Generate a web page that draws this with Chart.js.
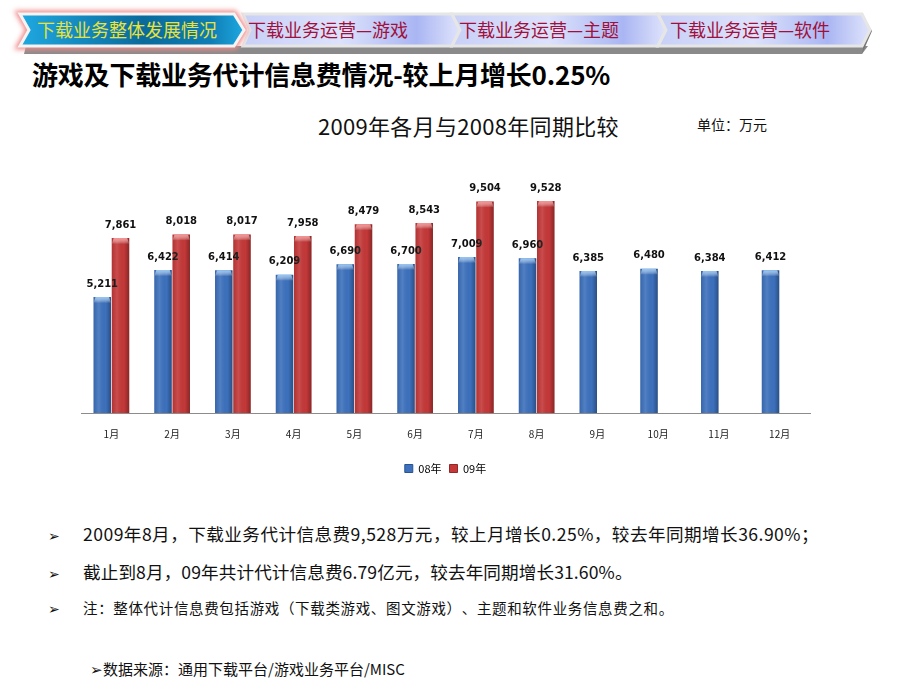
<!DOCTYPE html>
<html>
<head>
<meta charset="utf-8">
<script src="https://cdn.jsdelivr.net/npm/chart.js@4.4.1/dist/chart.umd.min.js"></script>
<style>
  html, body { margin: 0; padding: 0; background: #fff; }
  body { width: 920px; height: 690px; position: relative; overflow: hidden;
         font-family: "Noto Sans CJK SC", "Noto Sans", sans-serif;
         text-spacing-trim: space-all; font-feature-settings: "chws" 0; }
  .abs { position: absolute; white-space: nowrap; }
  #nav { position: absolute; left: 0; top: 0; }
  #title { left: 32px; top: 55px; font-size: 26px; font-weight: bold; color: #000; letter-spacing: -0.2px; }
  #ctitle { left: 318px; top: 109px; font-size: 22px; color: #111; letter-spacing: 0.3px; }
  #unit { left: 697px; top: 114px; font-size: 14px; color: #111; }
  #chartbox { position: absolute; left: 0; top: 130px; width: 920px; height: 360px; }
  .bl { font-size: 17.6px; color: #111; }
  .bul { font-size: 14px; color: #111; }
</style>
</head>
<body>
<svg id="nav" width="920" height="60" xmlns="http://www.w3.org/2000/svg">
  <defs>
    <linearGradient id="g1" x1="0" y1="0" x2="1" y2="0">
      <stop offset="0" stop-color="#1fa8e0"/>
      <stop offset="0.55" stop-color="#0a6a9c"/>
      <stop offset="0.85" stop-color="#0e7db4"/>
      <stop offset="1" stop-color="#1fa8e0"/>
    </linearGradient>
    <linearGradient id="g2" x1="0" y1="0" x2="1" y2="0">
      <stop offset="0" stop-color="#c8d0f7"/>
      <stop offset="0.45" stop-color="#dce2fb"/>
      <stop offset="0.8" stop-color="#aab6f3"/>
      <stop offset="1" stop-color="#dfe4fb"/>
    </linearGradient>
    <filter id="blur" x="-10%" y="-40%" width="120%" height="180%">
      <feGaussianBlur stdDeviation="2.5"/>
    </filter>
  </defs>
  <polygon points="26,46 868,46 862,54 24,54" fill="#8a8a8a"/>
  <polygon points="862,14 872,31 862,54 866,31" fill="#777"/>
  <polygon points="243,14 452,14 460,30 452,46 243,46 250,30" fill="url(#g2)" stroke="#e6e6e6" stroke-width="3"/>
  <polygon points="452,14 658,14 666,30 658,46 452,46 460,30" fill="url(#g2)" stroke="#e6e6e6" stroke-width="3"/>
  <polygon points="658,14 862,14 870,30 862,46 658,46 666,30" fill="url(#g2)" stroke="#e6e6e6" stroke-width="3"/>
  <polygon points="20,14 234,14 244,30 234,46 20,46 29,30" fill="none" stroke="#f08a8a" stroke-width="7" filter="url(#blur)"/>
  <polygon points="20,14 234,14 244,30 234,46 20,46 29,30" fill="url(#g1)" stroke="#f4f4f4" stroke-width="3"/>
  <text x="37" y="37" font-size="18" fill="#e9e33a" font-family="Noto Sans CJK SC">下载业务整体发展情况</text>
  <text x="248" y="37" font-size="18" fill="#a0103c" font-family="Noto Sans CJK SC">下载业务运营—游戏</text>
  <text x="459" y="37" font-size="18" fill="#a0103c" font-family="Noto Sans CJK SC">下载业务运营—主题</text>
  <text x="670" y="37" font-size="18" fill="#a0103c" font-family="Noto Sans CJK SC">下载业务运营—软件</text>
</svg>

<div id="title" class="abs">游戏及下载业务代计信息费情况-较上月增长0.25%</div>
<div id="ctitle" class="abs">2009年各月与2008年同期比较</div>
<div id="unit" class="abs">单位：万元</div>

<div id="chartbox"><canvas id="c" width="920" height="360"></canvas></div>

<div class="abs bul" style="left:48px;top:525px;">➢</div>
<div class="abs bl" style="left:83px;top:521px;letter-spacing:0.45px;">2009年8月，下载业务代计信息费9,528万元，较上月增长0.25%，较去年同期增长36.90%；</div>
<div class="abs bul" style="left:48px;top:563px;">➢</div>
<div class="abs bl" style="left:83px;top:559px;letter-spacing:0.1px;">截止到8月，09年共计代计信息费6.79亿元，较去年同期增长31.60%。</div>
<div class="abs bul" style="left:48px;top:598px;">➢</div>
<div class="abs" style="left:83px;top:597px;font-size:14.5px;letter-spacing:0.65px;color:#111;">注：整体代计信息费包括游戏（下载类游戏、图文游戏）、主题和软件业务信息费之和。</div>
<div class="abs" style="left:90px;top:658px;font-size:15px;color:#111;">➢数据来源：通用下载平台/游戏业务平台/MISC</div>

<script>
const months = ["1月","2月","3月","4月","5月","6月","7月","8月","9月","10月","11月","12月"];
const series08 = [5211, 6422, 6414, 6209, 6690, 6700, 7009, 6960, 6385, 6480, 6384, 6412];
const series09 = [7861, 8018, 8017, 7958, 8479, 8543, 9504, 9528, null, null, null, null];
const seriesNames = ["08年", "09年"];
const yMin = 0, yMax = 12000;

const baseColors = ["#3d71bd", "#c43838"];
const capColors = ["#92c4f2", "#f59090"];

const decoPlugin = {
  id: "deco",
  afterDatasetsDraw(chart) {
    const ctx = chart.ctx;
    chart.data.datasets.forEach((ds, di) => {
      const meta = chart.getDatasetMeta(di);
      meta.data.forEach((el, i) => {
        const v = ds.data[i];
        if (v === null || v === undefined) return;
        const w = el.width, x = el.x, y = el.y, b = el.base;
        ctx.save();
        const sg = ctx.createLinearGradient(x - w / 2, 0, x + w / 2, 0);
        sg.addColorStop(0, "rgba(0,0,0,0.10)");
        sg.addColorStop(0.3, "rgba(255,255,255,0.10)");
        sg.addColorStop(0.7, "rgba(0,0,0,0.0)");
        sg.addColorStop(1, "rgba(0,0,0,0.30)");
        ctx.fillStyle = sg;
        ctx.fillRect(x - w / 2, y, w, b - y);
        const g = ctx.createLinearGradient(0, y, 0, y + 6);
        g.addColorStop(0, capColors[di]);
        g.addColorStop(1, "rgba(255,255,255,0)");
        ctx.fillStyle = g;
        ctx.beginPath();
        ctx.moveTo(x - w / 2, y + 6);
        ctx.lineTo(x - w / 2 + 2, y);
        ctx.lineTo(x + w / 2 - 2, y);
        ctx.lineTo(x + w / 2, y + 6);
        ctx.closePath();
        ctx.fill();
        ctx.font = "bold 10px 'DejaVu Sans', sans-serif";
        ctx.fillStyle = "#111";
        ctx.textAlign = "center";
        ctx.textBaseline = "bottom";
        ctx.fillText(v.toLocaleString("en-US"), x, y - 8);
        ctx.restore();
      });
    });
  }
};

new Chart(document.getElementById("c"), {
  type: "bar",
  data: {
    labels: months,
    datasets: [
      { label: seriesNames[0], data: series08, backgroundColor: baseColors[0], borderWidth: 0 },
      { label: seriesNames[1], data: series09, backgroundColor: baseColors[1], borderWidth: 0 }
    ]
  },
  options: {
    responsive: false,
    animation: false,
    layout: { padding: { left: 81, right: 110, top: 16, bottom: 6 } },
    datasets: { bar: { categoryPercentage: 0.6, barPercentage: 0.96 } },
    scales: {
      x: {
        grid: { display: false, drawTicks: false },
        border: { display: true, color: "#8c8c8c", width: 1 },
        ticks: { color: "#222", font: { size: 10, family: "'Noto Sans CJK SC'" }, padding: 15 }
      },
      y: { display: false, min: yMin, max: yMax }
    },
    plugins: {
      legend: {
        position: "bottom",
        labels: {
          boxWidth: 8, boxHeight: 8, padding: 8,
          color: "#222", font: { size: 11, family: "'Noto Sans CJK SC'" },
          generateLabels(chart) {
            return chart.data.datasets.map((ds, i) => ({
              text: ds.label, fillStyle: baseColors[i],
              strokeStyle: ["#2a5394", "#932626"][i], lineWidth: 1,
              datasetIndex: i, hidden: false
            }));
          }
        }
      },
      tooltip: { enabled: false }
    }
  },
  plugins: [decoPlugin]
});
</script>
</body>
</html>
